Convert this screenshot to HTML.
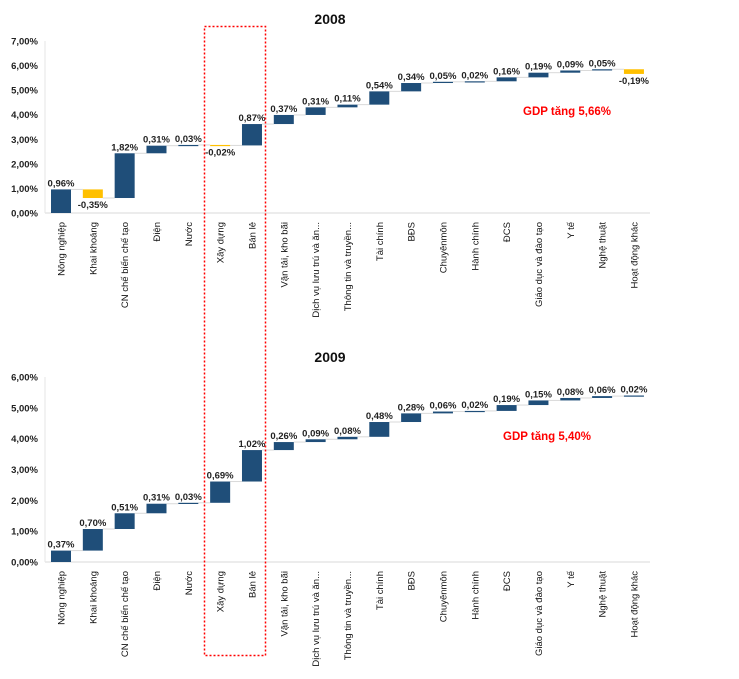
<!DOCTYPE html>
<html><head><meta charset="utf-8"><style>
body{margin:0;background:#fff;width:739px;height:674px;overflow:hidden}
svg text{font-family:"Liberation Sans",sans-serif}
</style></head><body>
<svg id="s" width="739" height="674" viewBox="0 0 739 674" xmlns="http://www.w3.org/2000/svg"></svg>
<script>
const categories=["Nông nghiệp","Khai khoáng","CN chế biến chế tạo","Điện","Nước","Xây dựng","Bán lẻ","Vận tải, kho bãi","Dịch vụ lưu trú và ăn...","Thông tin và truyền...","Tài chính","BĐS","Chuyênmôn","Hành chính","ĐCS","Giáo dục và đào tạo","Y tế","Nghệ thuật","Hoạt động khác"];
const values2008=[0.96,-0.35,1.82,0.31,0.03,-0.02,0.87,0.37,0.31,0.11,0.54,0.34,0.05,0.02,0.16,0.19,0.09,0.05,-0.19];
const values2009=[0.37,0.70,0.51,0.31,0.03,0.69,1.02,0.26,0.09,0.08,0.48,0.28,0.06,0.02,0.19,0.15,0.08,0.06,0.02];
const ticks2008=[0,1,2,3,4,5,6,7];
const ticks2009=[0,1,2,3,4,5,6];
const NS="http://www.w3.org/2000/svg";
const svg=document.getElementById('s');
function mk(tag,attrs,parent){const e=document.createElementNS(NS,tag);for(const k in attrs)e.setAttribute(k,attrs[k]);(parent||svg).appendChild(e);return e;}
const fmt=v=>(v<0?'-':'')+Math.abs(v).toFixed(2).replace('.',',')+'%';
function chart(name,values,ticks,y0,yTop,title,titleY,gdp,gdpX,gdpY){
  const g=mk('g',{});
  
  
  const maxT=ticks[ticks.length-1];
  const y=v=>y0-(v/maxT)*(y0-yTop);
  const x=i=>61+i*31.83;
  const bw=20;
  const t=mk('text',{x:330,y:titleY,'text-anchor':'middle','font-size':14,'font-weight':'bold',fill:'#111'},g);
  t.textContent=title;
  
  
  ticks.forEach(v=>{const tl=mk('text',{x:38,y:y(v)+3.5,'text-anchor':'end','font-size':9.5,'font-weight':'bold',fill:'#222'},g);tl.textContent=fmt(v);
    
    });
  const ax=mk('line',{x1:45,x2:650,y1:y0,y2:y0,stroke:'#d9d9d9','stroke-width':1},g);
  
  
  const yl=mk('line',{x1:45,x2:45,y1:y0,y2:yTop,stroke:'#e6e6e6','stroke-width':1},g);
  
  
  let cum=0;
  values.forEach((v,i)=>{
    const a=cum,b=cum+v;cum=b;
    const top=y(Math.max(a,b)),bot=y(Math.min(a,b));
    if(i<values.length-1){const c=mk('line',{x1:x(i)+bw/2,x2:x(i+1)-bw/2,y1:y(b),y2:y(b),stroke:'#d9d9d9','stroke-width':1},g);
      
      }
    const r=mk('rect',{x:x(i)-bw/2,y:top,width:bw,height:Math.max(bot-top,1.2),fill:v<0?'#FFC000':'#1F4E79'},g);
    
    
    const lt=mk('text',{x:x(i),y:v<0?bot+10:top-3,'text-anchor':'middle','font-size':9.5,'font-weight':'bold',fill:'#222'},g);
    lt.textContent=fmt(v);
    
    
    const cl=mk('text',{x:0,y:0,'text-anchor':'end','font-size':9.5,fill:'#111',transform:`translate(${x(i)+3.5},${y0+9}) rotate(-90)`},g);
    cl.textContent=categories[i];
    
    
  });
  const gt=mk('text',{x:gdpX,y:gdpY,'font-size':11.5,'font-weight':'bold',fill:'#ff0000'},g);
  gt.textContent=gdp;
  
  
}
chart('chart-2008',values2008,ticks2008,213,41,'2008',24,'GDP tăng 5,66%',523,115);
chart('chart-2009',values2009,ticks2009,562,377,'2009',362,'GDP tăng 5,40%',503,440);
const hl=mk('rect',{x:204.5,y:26.5,width:61,height:629,fill:'none',stroke:'#ff0000','stroke-width':1.5,'stroke-dasharray':'2,2'});


</script>
</body></html>
